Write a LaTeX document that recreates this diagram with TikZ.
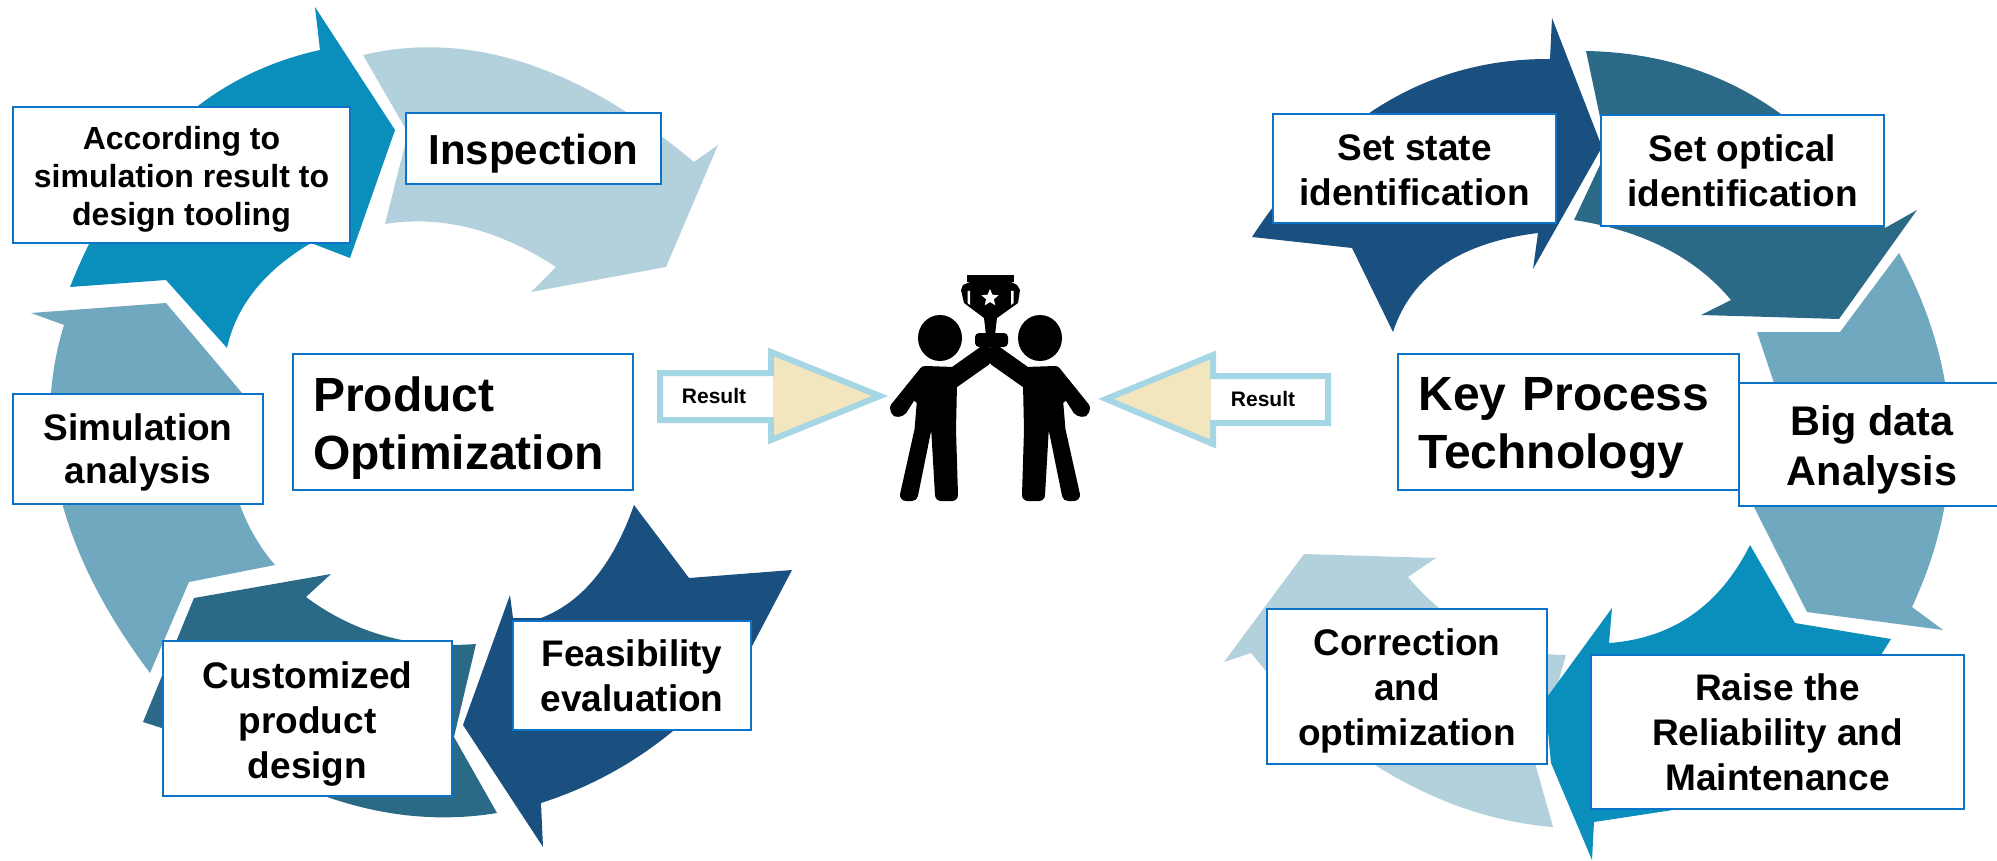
\documentclass[tikz,border=0pt]{standalone}
\usepackage{fontspec}
\setmainfont{Liberation Sans}
\usetikzlibrary{shapes.geometric}
\definecolor{cA}{HTML}{0A8FBC}
\definecolor{cB}{HTML}{B3D1DD}
\definecolor{cC}{HTML}{6FA8BF}
\definecolor{cD}{HTML}{2A6A87}
\definecolor{cE}{HTML}{1A5080}
\definecolor{cBorder}{HTML}{0B74C8}
\definecolor{cRes}{HTML}{A5D6E3}
\definecolor{cCream}{HTML}{F3E6BF}
\tikzset{
  tbox/.style={draw=cBorder,fill=white,line width=1pt,inner sep=0pt},
  tlabel/.style={inner sep=0pt,align=center,font=\bfseries},
  resout/.style={draw=cRes,line width=3pt,line join=miter},
  fig/.style={fill=black,draw=black,line width=6pt,line join=round}
}
% box corners #2..#5, text style #6, text #7, text shift down in px #8
\newcommand{\tbx}[8]{\node[tbox,minimum width=(#4-#2)*0.5pt,minimum height=(#5-#3)*0.5pt] (#1) at ({(#2+#4)/2},{(#3+#5)/2}) {};
  \node[tlabel,#6] (#1-text) at ({(#2+#4)/2},{(#3+#5)/2+#8}) {#7};}
% arc from (#1,#2) through (#3,#4) to (#5,#6)
\newcommand{\ac}[6]{.. controls ({4/3*#3-#5/3},{4/3*#4-#6/3}) and ({4/3*#3-#1/3},{4/3*#4-#2/3}) .. (#5,#6)}
\newcommand{\fs}[2]{\fontsize{#1}{#2}\selectfont}
\newcommand{\person}{(925,372) -- (954,373) -- (985,351) -- (985,360) -- (951,384) -- (950,430) -- (952,495) -- (941,495) -- (937,426) -- (926,426) -- (912,495) -- (906,495) -- (920.5,430) -- (923,400) -- (912.5,392) -- (901,410) -- (897,411) -- (896,408) -- cycle}
\begin{document}
\begin{tikzpicture}[x=0.5pt,y=-0.5pt]
\useasboundingbox (0,0) rectangle (1997,861);
% ---- left cycle
\fill[cB] (363,55) \ac{363}{55}{525}{63}{694}{162} -- (718,145) -- (666,267) -- (531,292) -- (556,267) \ac{556}{267}{470}{228}{385}{224} -- (408,133) -- cycle;
\fill[cA] (315,7) -- (320,50) \ac{320}{50}{172}{128}{70}{287} -- (166,280) -- (227,348) \ac{227}{348}{255}{290}{311}{243} -- (350,258) -- (395,130) -- cycle;
\fill[cC] (31,313) -- (166,303) -- (242,393) -- (240,505) \ac{240}{505}{255}{537}{275}{565} -- (189,582) -- (150,673) \ac{150}{673}{60}{495}{64}{325} -- cycle;
\fill[cD] (331,574) -- (306,597) \ac{306}{597}{385}{636}{476}{644} -- (454,737) -- (497,813) \ac{497}{813}{365}{808}{230}{750} -- (143,722) -- (194,598) -- cycle;
\fill[cE] (634,505) -- (689,578) -- (792,570) -- (750,650) \ac{750}{650}{655}{745}{541}{803} -- (543,847) -- (463,725) -- (510,595) -- (513,618) -- (541,618) \ac{541}{618}{595}{578}{634}{505} -- cycle;
% ---- right cycle
\fill[cE] (1552,18) -- (1550,59) \ac{1550}{59}{1385}{103}{1252}{237} -- (1352,248) -- (1393,332) \ac{1393}{332}{1443}{265}{1538}{233} -- (1533,269) -- (1602,147) -- cycle;
\fill[cD] (1586,51) \ac{1586}{51}{1755}{97}{1885}{228} -- (1917,210) -- (1839,319) -- (1701,315) -- (1731,300) \ac{1731}{300}{1665}{248}{1574}{220} -- (1607,150) -- cycle;
\fill[cC] (1899,253) \ac{1899}{253}{1950}{430}{1912}{607} -- (1943,630) -- (1807,612) -- (1754,507) -- (1774,383) -- (1757,332) -- (1840,332) -- cycle;
\fill[cB] (1304,554) -- (1436,558) -- (1408,577) \ac{1408}{577}{1480}{635}{1566}{655} -- (1535,763) -- (1553,827) \ac{1553}{827}{1420}{790}{1290}{700} -- (1251,653) -- (1224,662) -- cycle;
\fill[cA] (1750,545) -- (1795,623) -- (1891,639) -- (1881,655) \ac{1881}{655}{1800}{755}{1673}{810} -- (1594,822) -- (1592,860) -- (1551,763) -- (1545,700) -- (1612,608) -- (1609,643) \ac{1609}{643}{1692}{615}{1750}{545} -- cycle;
% ---- result arrows
\fill[cCream] (771,352) -- (880,396) -- (771,440) -- cycle;
\fill[white] (660,373) rectangle (773,420);
\draw[resout] (660,373) -- (771,373) -- (771,352) -- (880,396) -- (771,440) -- (771,420) -- (660,420) -- cycle;
\fill[cCream] (1213,355) -- (1106,399) -- (1213,444) -- cycle;
\fill[white] (1211,376) rectangle (1328,423);
\draw[resout] (1106,399) -- (1213,355) -- (1213,376) -- (1328,376) -- (1328,423) -- (1213,423) -- (1213,444) -- cycle;
\node[font=\bfseries\fs{10.5}{12}] (res1) at (714,396) {Result};
\node[font=\bfseries\fs{10.5}{12}] (res2) at (1263,399) {Result};
% ---- people and trophy
\fill[black] (940,338) ellipse [x radius=22,y radius=23];
\fill[black] (1040,338) ellipse [x radius=22,y radius=23];
\path[fig] \person;
\path[fig,shift={(1980,0)},xscale=-1] \person;
\fill[black,rounded corners=2pt] (975,333) rectangle (1008,347);
\fill[black] (967,275) rectangle (1014,282);
\fill[black] (970,282) -- (963,285) -- (961,290) -- (964,303) -- (984,318) -- (986,335) -- (995,335) -- (997,318) -- (1018,303) -- (1020,290) -- (1017,285) -- (1011,282) -- cycle;
\fill[white] (967.5,291) -- (967.5,303) -- (970,305) -- (970,291) -- cycle;
\fill[white] (1013.5,291) -- (1013.5,303) -- (1011,305) -- (1011,291) -- cycle;
\node[star,star points=5,star point ratio=2.2,fill=white,inner sep=0pt,minimum size=9pt] (star1) at (990,298) {};
% ---- boxes
\tbx{accord}{13}{107}{350}{243}{font=\bfseries\fs{16}{19}}{According to\\simulation result to\\design tooling}{3.8}
\tbx{insp}{406}{113}{661}{184}{font=\bfseries\fs{21}{25}}{Inspection}{5}
\tbx{simu}{13}{394}{263}{504}{font=\bfseries\fs{18.5}{21.5}}{Simulation\\analysis}{3.8}
\tbx{prod}{293}{354}{633}{490}{font=\bfseries\fs{24}{29},align=left,text width=150pt}{Product\\Optimization}{6.4}
\tbx{cust}{163}{641}{452}{796}{font=\bfseries\fs{18.5}{22.5}}{Customized\\product\\design}{5.6}
\tbx{feas}{513}{621}{751}{730}{font=\bfseries\fs{18.5}{22.5}}{Feasibility\\evaluation}{0}
\tbx{state}{1273}{114}{1556}{223}{font=\bfseries\fs{18.5}{22.5}}{Set state\\identification}{2}
\tbx{optic}{1601}{115}{1884}{226}{font=\bfseries\fs{18.5}{22.5}}{Set optical\\identification}{0.6}
\tbx{key}{1398}{354}{1739}{490}{font=\bfseries\fs{24}{29},align=left,text width=150pt}{Key Process\\Technology}{6.4}
\tbx{big}{1739}{383}{2005}{506}{font=\bfseries\fs{20.7}{25}}{Big data\\Analysis}{5}
\tbx{corr}{1267}{609}{1547}{764}{font=\bfseries\fs{18.5}{22.5}}{Correction\\and\\optimization}{4.4}
\tbx{raise}{1591}{655}{1964}{809}{font=\bfseries\fs{18.5}{22.5}}{Raise the\\Reliability and\\Maintenance}{0}
\end{tikzpicture}
\end{document}
